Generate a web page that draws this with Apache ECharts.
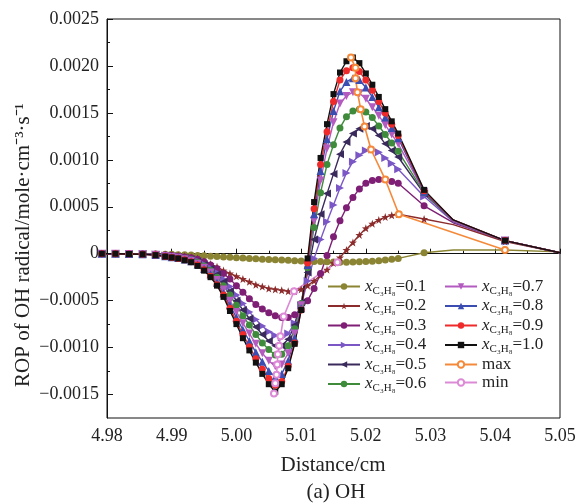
<!DOCTYPE html>
<html><head><meta charset="utf-8">
<script src="https://cdn.jsdelivr.net/npm/echarts@6/dist/echarts.min.js"></script>
<style>html,body{margin:0;padding:0;background:#fff}#c{width:579px;height:503px}</style>
</head><body><div id="c"></div>
<script>
// Distance grid (cm)
const distance = [4.9792, 4.9813, 4.9834, 4.9855, 4.9875,
  4.989, 4.990, 4.991, 4.992, 4.993, 4.994, 4.995, 4.996, 4.997, 4.998, 4.999,
  5.000, 5.001, 5.002, 5.003, 5.004, 5.005, 5.006, 5.007, 5.008, 5.009,
  5.010, 5.011, 5.012, 5.013, 5.014, 5.015, 5.016, 5.017, 5.018, 5.019,
  5.020, 5.021, 5.022, 5.023, 5.024, 5.025, 5.029, 5.0335, 5.0415, 5.05];
const unmarkedDistance = [5.0335, 5.05];

const rop01 = [0, 0, 0, 0, -0.000003,
  -0.000005, -0.000007, -0.00001, -0.000012, -0.000015, -0.000018, -0.000022, -0.000026, -0.00003, -0.000034, -0.000038,
  -0.000042, -0.000046, -0.00005, -0.000054, -0.000058, -0.000062, -0.000065, -0.000068, -0.000071, -0.000074,
  -0.000077, -0.00008, -0.000082, -0.000084, -0.000086, -0.000088, -0.00009, -0.00009, -0.000089, -0.000087,
  -0.000084, -0.00008, -0.000074, -0.000067, -0.000058, -0.00005, 0.00001, 0.00004, 0.00004, 0.00002];
const rop02 = [0, 0, -0.000001, -0.000002, -0.000005,
  -0.00001, -0.000014, -0.000018, -0.000024, -0.000035, -0.00005, -0.00008, -0.00011, -0.00014, -0.00018, -0.00021,
  -0.00024, -0.00027, -0.0003, -0.00033, -0.00035, -0.00037, -0.00038, -0.00039, -0.0004, -0.0004,
  -0.00038, -0.00034, -0.00029, -0.00023, -0.00017, -0.0001, -0.00004, 0.00004, 0.00012, 0.0002,
  0.00027, 0.00032, 0.00036, 0.00039, 0.00041, 0.00042, 0.00037, 0.00031, 0.00013, 0.00001];
const rop03 = [0, 0, -0.000001, -0.000003, -0.000006,
  -0.000014, -0.00002, -0.000026, -0.000034, -0.000044, -0.00006, -0.000085, -0.00012, -0.00016, -0.00021, -0.00027,
  -0.00034, -0.00041, -0.00048, -0.00054, -0.00059, -0.00063, -0.00066, -0.00068, -0.00068, -0.00065,
  -0.00059, -0.0005, -0.00037, -0.00021, -0.00002, 0.00018, 0.00035, 0.00049, 0.0006, 0.00069,
  0.00075, 0.00078, 0.00079, 0.00079, 0.00077, 0.00075, 0.00051, 0.00033, 0.00014, 0.00001];
const rop04 = [0, 0, -0.000002, -0.000003, -0.000008,
  -0.000018, -0.000025, -0.000032, -0.000042, -0.000055, -0.000075, -0.00011, -0.00015, -0.0002, -0.00027, -0.00035,
  -0.00044, -0.00053, -0.00062, -0.0007, -0.00077, -0.00083, -0.00087, -0.00089, -0.00085, -0.00074,
  -0.00055, -0.00029, -0.00005, 0.00015, 0.00034, 0.00052, 0.0007, 0.00086, 0.00098, 0.00105,
  0.0011, 0.00111, 0.00108, 0.00102, 0.00096, 0.0009, 0.00061, 0.00034, 0.00014, 0.00001];
const rop05 = [0, 0, -0.000002, -0.000004, -0.00001,
  -0.00002, -0.000027, -0.000035, -0.000046, -0.00006, -0.000083, -0.00012, -0.00016, -0.00022, -0.0003, -0.0004,
  -0.0005, -0.0006, -0.00069, -0.00078, -0.00086, -0.00093, -0.00098, -0.00098, -0.00091, -0.00076,
  -0.00052, -0.0002, 0.00015, 0.00042, 0.00064, 0.00085, 0.00106, 0.00119, 0.00128, 0.00133,
  0.00136, 0.00133, 0.00126, 0.00117, 0.0011, 0.00103, 0.00064, 0.00035, 0.00014, 0.00001];
const rop06 = [0, 0, -0.000002, -0.000004, -0.000011,
  -0.000022, -0.00003, -0.000038, -0.00005, -0.000065, -0.00009, -0.00013, -0.00018, -0.00025, -0.00034, -0.00044,
  -0.00055, -0.00066, -0.00076, -0.00086, -0.00095, -0.00102, -0.00108, -0.00107, -0.00098, -0.0008,
  -0.00053, -0.00015, 0.00028, 0.00065, 0.00095, 0.00116, 0.00134, 0.00146, 0.00152, 0.00154,
  0.00151, 0.00145, 0.00136, 0.00127, 0.00118, 0.00109, 0.00065, 0.00035, 0.00014, 0.00001];
const rop07 = [0, 0, -0.000002, -0.000005, -0.000012,
  -0.000024, -0.000034, -0.000043, -0.000058, -0.000074, -0.000106, -0.00015, -0.0002, -0.00028, -0.00038, -0.0005,
  -0.00062, -0.00074, -0.00085, -0.00096, -0.00106, -0.00114, -0.0012, -0.00118, -0.00106, -0.00085,
  -0.00055, -0.00013, 0.00035, 0.00078, 0.00112, 0.0014, 0.0016, 0.00168, 0.00172, 0.00171,
  0.00165, 0.00156, 0.00147, 0.00137, 0.00127, 0.00117, 0.00066, 0.00035, 0.00014, 0.00001];
const rop08 = [0, 0, -0.000003, -0.000005, -0.000013,
  -0.000026, -0.000037, -0.000047, -0.000063, -0.000081, -0.000115, -0.00016, -0.00022, -0.00031, -0.00042, -0.00055,
  -0.00068, -0.00081, -0.00093, -0.00105, -0.00115, -0.00125, -0.00131, -0.00128, -0.00114, -0.0009,
  -0.00058, -0.00012, 0.00042, 0.00088, 0.00122, 0.00152, 0.00173, 0.00183, 0.00187, 0.00185,
  0.00177, 0.00167, 0.00156, 0.00145, 0.00134, 0.00123, 0.00066, 0.00036, 0.00014, 0.00001];
const rop09 = [0, 0, -0.000003, -0.000006, -0.000014,
  -0.00003, -0.00004, -0.00005, -0.000065, -0.000085, -0.00012, -0.00017, -0.00024, -0.00033, -0.00044, -0.00058,
  -0.00072, -0.00086, -0.00099, -0.00112, -0.00123, -0.00133, -0.0014, -0.00136, -0.0012, -0.00095,
  -0.0006, -0.0001, 0.00048, 0.00095, 0.0013, 0.00162, 0.00185, 0.00195, 0.00198, 0.00194,
  0.00185, 0.00174, 0.00162, 0.0015, 0.00138, 0.00126, 0.00067, 0.00036, 0.00014, 0.00001];
const rop10 = [0, 0, -0.000003, -0.000006, -0.000015,
  -0.00003, -0.00004, -0.00005, -0.00007, -0.00009, -0.00013, -0.00018, -0.00025, -0.00034, -0.00046, -0.00061,
  -0.00075, -0.0009, -0.00103, -0.00116, -0.00128, -0.00139, -0.00147, -0.00139, -0.00122, -0.00096,
  -0.0006, -0.00005, 0.00055, 0.00102, 0.00138, 0.0017, 0.00193, 0.00205, 0.00209, 0.00203,
  0.00192, 0.0018, 0.00167, 0.00154, 0.00141, 0.00128, 0.00068, 0.00036, 0.00014, 0.00001];

const compositions = ['0.1', '0.2', '0.3', '0.4', '0.5', '0.6', '0.7', '0.8', '0.9', '1.0'];
const ropSeries = [rop01, rop02, rop03, rop04, rop05, rop06, rop07, rop08, rop09, rop10];

const maxDistance = [5.0177, 5.0184, 5.0184, 5.0187, 5.0192, 5.0198, 5.0208, 5.0230, 5.0251, 5.0415];
const maxRop = [0.00209, 0.00198, 0.00187, 0.00172, 0.00154, 0.001355, 0.00111, 0.00079, 0.00042, 0.00004];
const minDistance = [5.0058, 5.0060, 5.0062, 5.0063, 5.0064, 5.0066, 5.0068, 5.0073, 5.0089, 5.0156];
const minRop = [-0.00149, -0.00138, -0.00129, -0.00118, -0.00107, -0.00098, -0.00088, -0.00067, -0.0004, -0.00009];

const yTickValues = [-0.0015, -0.001, -0.0005, 0, 0.0005, 0.001, 0.0015, 0.002, 0.0025];
const yMinorTickValues = [-0.00125, -0.00075, -0.00025, 0.00025, 0.00075, 0.00125, 0.00175, 0.00225];
const xTickLabels = ['4.98', '4.99', '5.00', '5.01', '5.02', '5.03', '5.04', '5.05'];

const FONT = 'Liberation Serif';
const STAR = 'path://M0,-10 L2.35,-3.24 9.51,-3.09 3.8,1.24 5.88,8.09 0,4 -5.88,8.09 -3.8,1.24 -9.51,-3.09 -2.35,-3.24Z';
const looks = [
  {color: '#8a8433', symbol: 'circle', rot: 0, size: 7},
  {color: '#8c2b2b', symbol: STAR, rot: 0, size: 8},
  {color: '#7e1f75', symbol: 'circle', rot: 0, size: 7},
  {color: '#7b57c6', symbol: 'triangle', rot: -90, size: 8},
  {color: '#3a2a5c', symbol: 'triangle', rot: 90, size: 8},
  {color: '#3f8b3c', symbol: 'circle', rot: 0, size: 7},
  {color: '#b35bbf', symbol: 'triangle', rot: 180, size: 8},
  {color: '#3b4db0', symbol: 'triangle', rot: 0, size: 8},
  {color: '#ee2a2a', symbol: 'circle', rot: 0, size: 7},
  {color: '#111111', symbol: 'rect', rot: 0, size: 6}
];

const series = compositions.map((c, k) => ({
  name: 'x=' + c,
  type: 'line',
  clip: false,
  symbol: looks[k].symbol,
  symbolRotate: looks[k].rot,
  symbolSize: looks[k].size,
  color: looks[k].color,
  lineStyle: {width: 1.4, color: looks[k].color},
  itemStyle: {color: looks[k].color},
  data: distance.map((d, i) => unmarkedDistance.includes(d)
    ? {value: [d, ropSeries[k][i]], symbol: 'none'}
    : [d, ropSeries[k][i]])
}));
series.push({
  name: 'max', type: 'line', clip: false, symbol: 'emptyCircle', symbolSize: 6,
  color: '#f5893a', lineStyle: {width: 1.6, color: '#f5893a'},
  itemStyle: {color: '#f5893a', borderWidth: 2},
  data: maxDistance.map((d, i) => [d, maxRop[i]])
});
series.push({
  name: 'min', type: 'line', clip: false, symbol: 'emptyCircle', symbolSize: 6,
  color: '#dc8ad6', lineStyle: {width: 1.6, color: '#dc8ad6'},
  itemStyle: {color: '#dc8ad6', borderWidth: 2},
  data: minDistance.map((d, i) => [d, minRop[i]])
});

const legendRich = {
  i: {fontFamily: FONT, fontStyle: 'italic', fontSize: 17, color: '#222'},
  s: {fontFamily: FONT, fontSize: 11, color: '#222', padding: [9, 0, 0, 0]},
  n: {fontFamily: FONT, fontSize: 17, color: '#222'}
};
const legendFmt = name => name.startsWith('x=')
  ? '{i|x}{s|C₃H₈}{n|=' + name.slice(2) + '}'
  : '{n|' + name + '}';
const legendBase = {
  orient: 'vertical', itemWidth: 32, itemHeight: 8, itemGap: 1,
  formatter: legendFmt, textStyle: {rich: legendRich, fontFamily: FONT, fontSize: 17}
};

const fmtY = v => {
  if (Math.abs(v) < 1e-12) return '0';
  return (v < 0 ? '−' : '') + Math.abs(v).toFixed(4);
};

const chart = echarts.init(document.getElementById('c'), null, {renderer: 'canvas'});
chart.setOption({
  animation: false,
  backgroundColor: '#fff',
  grid: {left: 107, right: 19, top: 19, bottom: 85, show: true, borderColor: '#111', borderWidth: 1, containLabel: false},
  xAxis: {
    type: 'value', min: 4.98, max: 5.05, interval: 0.01,
    axisLine: {lineStyle: {color: '#111', width: 1}},
    axisTick: {inside: true, length: 5, lineStyle: {color: '#111'}},
    minorTick: {show: true, splitNumber: 2, length: 3, lineStyle: {color: '#111'}},
    splitLine: {show: false},
    axisLabel: {fontFamily: FONT, fontSize: 18, color: '#222', margin: 9,
      formatter: v => xTickLabels[Math.round((v - 4.98) / 0.01)] || ''}
  },
  yAxis: [{
    type: 'value', min: -0.00175, max: 0.0025, position: 'left',
    axisLine: {show: true, lineStyle: {color: '#111', width: 1}},
    axisTick: {show: true, inside: true, length: 6, customValues: yTickValues, lineStyle: {color: '#111'}},
    splitLine: {show: false},
    axisLabel: {fontFamily: FONT, fontSize: 18, color: '#222', margin: 8, customValues: yTickValues, formatter: fmtY}
  }, {
    type: 'value', min: -0.00175, max: 0.0025, position: 'left',
    axisLine: {show: false},
    axisTick: {show: true, inside: true, length: 3, customValues: yMinorTickValues, lineStyle: {color: '#111'}},
    splitLine: {show: false},
    axisLabel: {show: false}
  }],
  legend: [
    Object.assign({left: 322, top: 273, data: series.slice(0, 6).map(s => s.name)}, legendBase),
    Object.assign({left: 439, top: 273, data: series.slice(6).map(s => s.name)}, legendBase)
  ],
  graphic: [
    {type: 'text', x: 23, y: 245, rotation: Math.PI / 2,
      style: {text: 'ROP of OH radical/mole·cm⁻³·s⁻¹', fontFamily: FONT, fontSize: 21, fill: '#222', align: 'center', verticalAlign: 'middle'}},
    {type: 'text', x: 333, y: 465,
      style: {text: 'Distance/cm', fontFamily: FONT, fontSize: 21, fill: '#222', align: 'center', verticalAlign: 'middle'}},
    {type: 'text', x: 336, y: 492,
      style: {text: '(a) OH', fontFamily: FONT, fontSize: 21, fill: '#222', align: 'center', verticalAlign: 'middle'}}
  ],
  series: series
});
</script></body></html>
